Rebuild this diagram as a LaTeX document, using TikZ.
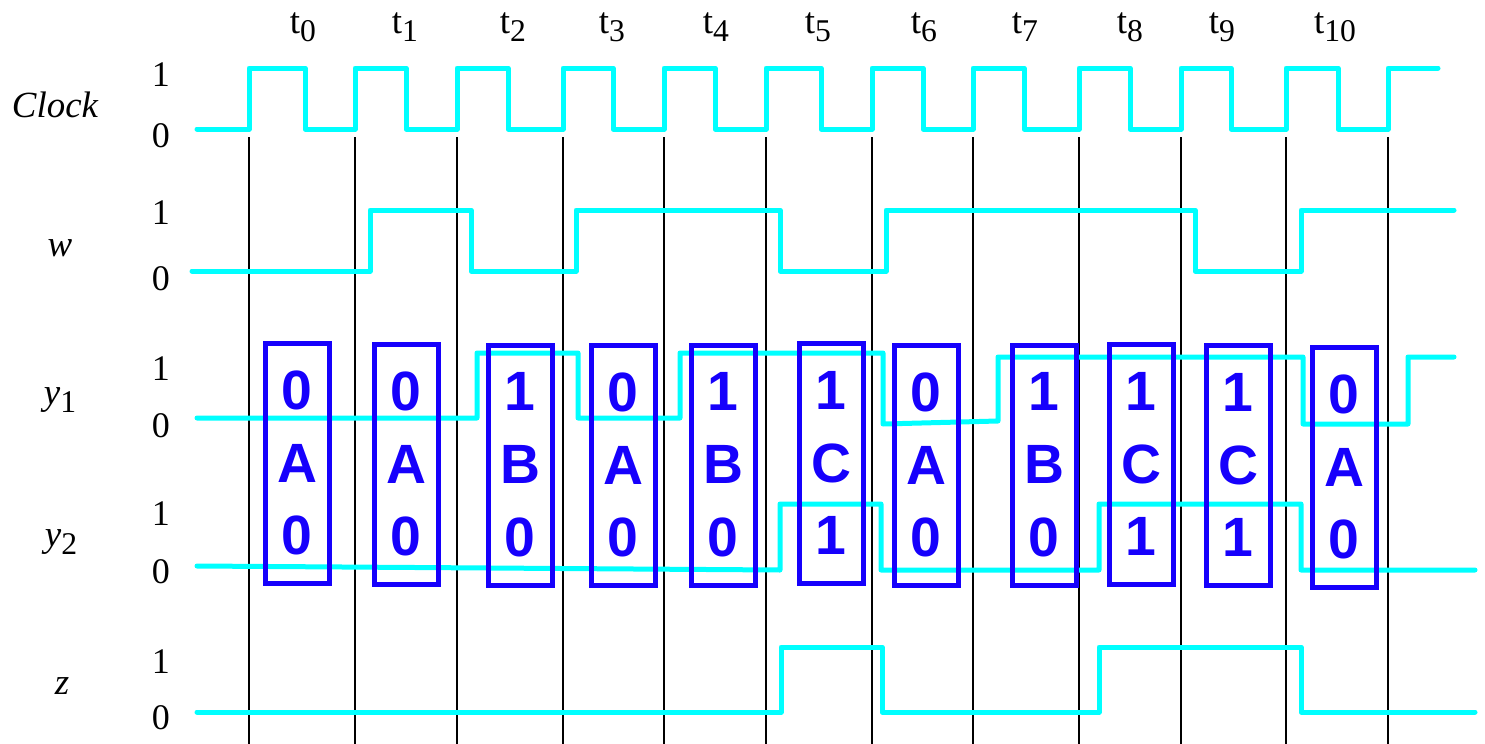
\documentclass[tikz,border=0pt]{standalone}
\usepackage{fontspec}
\setmainfont{Liberation Serif}
\newfontfamily\statefont{Liberation Sans}
\definecolor{stateblue}{RGB}{22,0,252}
\definecolor{wavecyan}{RGB}{0,255,255}
\newcommand{\lowsub}[2]{#1\raisebox{-5pt}{\fontsize{18}{18}\selectfont #2}}

\begin{document}
\begin{tikzpicture}[x=0.2mm, y=-0.2mm,
    signal/.style={draw=wavecyan, line width=1mm, line join=round,
        line cap=round},
    edge line/.style={draw=black, line width=0.3mm},
    level label/.style={font=\fontsize{20.5}{24}\selectfont, inner sep=0pt},
    name label/.style={font=\fontsize{21}{24}\selectfont\itshape,
        inner sep=0pt},
    time label/.style={font=\fontsize{21}{24}\selectfont, inner sep=0pt,
        anchor=base},
    state box/.style={draw=stateblue, line width=1mm, text=stateblue,
        minimum width=12.8mm, minimum height=48mm, inner sep=0pt,
        align=center,
        font=\statefont\bfseries\fontsize{31.5}{41.5}\selectfont}
]
\path[use as bounding box] (0,0) rectangle (1485,744);

% Clock edges
\draw[edge line] (249,137) -- (249,744);
\draw[edge line] (355,137) -- (355,744);
\draw[edge line] (457,137) -- (457,744);
\draw[edge line] (563,137) -- (563,744);
\draw[edge line] (664,137) -- (664,744);
\draw[edge line] (766,137) -- (766,744);
\draw[edge line] (872,137) -- (872,744);
\draw[edge line] (973,137) -- (973,744);
\draw[edge line] (1079,137) -- (1079,744);
\draw[edge line] (1181,137) -- (1181,744);
\draw[edge line] (1286,137) -- (1286,744);
\draw[edge line] (1388,137) -- (1388,744);

% Time labels
\node[time label] (t-0) at (303,33) {\lowsub{t}{0}};
\node[time label] (t-1) at (405,33) {\lowsub{t}{1}};
\node[time label] (t-2) at (513,33) {\lowsub{t}{2}};
\node[time label] (t-3) at (612,33) {\lowsub{t}{3}};
\node[time label] (t-4) at (716,33) {\lowsub{t}{4}};
\node[time label] (t-5) at (818,33) {\lowsub{t}{5}};
\node[time label] (t-6) at (924,33) {\lowsub{t}{6}};
\node[time label] (t-7) at (1025,33) {\lowsub{t}{7}};
\node[time label] (t-8) at (1130,33) {\lowsub{t}{8}};
\node[time label] (t-9) at (1222,33) {\lowsub{t}{9}};
\node[time label] (t-10) at (1335,33) {\lowsub{t}{10}};

% Signal names and levels
\node[name label] (name-clock) at (55,105) {Clock};
\node[level label] (clock-1) at (161,75) {1};
\node[level label] (clock-0) at (161,136) {0};

\node[name label] (name-w) at (60,248) {w};
\node[level label] (w-1) at (161,213) {1};
\node[level label] (w-0) at (161,279) {0};

\node[name label] (name-y1) at (60,400) {\lowsub{y}{\upshape 1}};
\node[level label] (y1-1) at (161,369) {1};
\node[level label] (y1-0) at (161,426) {0};

\node[name label] (name-y2) at (61,542) {\lowsub{y}{\upshape 2}};
\node[level label] (y2-1) at (161,514) {1};
\node[level label] (y2-0) at (161,572) {0};

\node[name label] (name-z) at (62,686) {z};
\node[level label] (z-1) at (161,662) {1};
\node[level label] (z-0) at (161,718) {0};

% Waveforms
\draw[signal] (197,129) -| (249,68) -| (305,129) -| (355,68) -| (406,129)
    -| (457,68) -| (508,129) -| (563,68) -| (613,129) -| (664,68)
    -| (715,129) -| (766,68) -| (821,129) -| (872,68) -| (923,129)
    -| (973,68) -| (1024,129) -| (1079,68) -| (1130,129) -| (1181,68)
    -| (1231,129) -| (1286,68) -| (1338,129) -| (1388,68) -- (1438,68);
\draw[signal] (192,271) -| (370,210) -| (471,271) -| (576,210)
    -| (780,271) -| (886,210) -| (1195,271) -| (1301,210) -- (1454,210);
\draw[signal] (197,418) -| (477,353) -| (578,418) -| (680,353)
    -| (883,424) -- (998,421) -- (998,357) -| (1303,424) -| (1408,357)
    -- (1454,357);
\draw[signal] (197,566) -- (780,570) -- (780,504) -| (881,570)
    -| (1099,504) -| (1301,570) -- (1475,570);
\draw[signal] (197,712) -| (781,647) -| (882,712) -| (1099,647)
    -| (1301,712) -- (1475,712);

% States
\node[state box] (state-0) at (297,463) {0\\A\\0};
\node[state box] (state-1) at (406,464) {0\\A\\0};
\node[state box] (state-2) at (520,465) {1\\B\\0};
\node[state box] (state-3) at (623,465) {0\\A\\0};
\node[state box] (state-4) at (723,465) {1\\B\\0};
\node[state box] (state-5) at (831,463) {1\\C\\1};
\node[state box] (state-6) at (926,465) {0\\A\\0};
\node[state box] (state-7) at (1044,465) {1\\B\\0};
\node[state box] (state-8) at (1141,464) {1\\C\\1};
\node[state box] (state-9) at (1238,465) {1\\C\\1};
\node[state box] (state-10) at (1344,467) {0\\A\\0};

\end{tikzpicture}
\end{document}
